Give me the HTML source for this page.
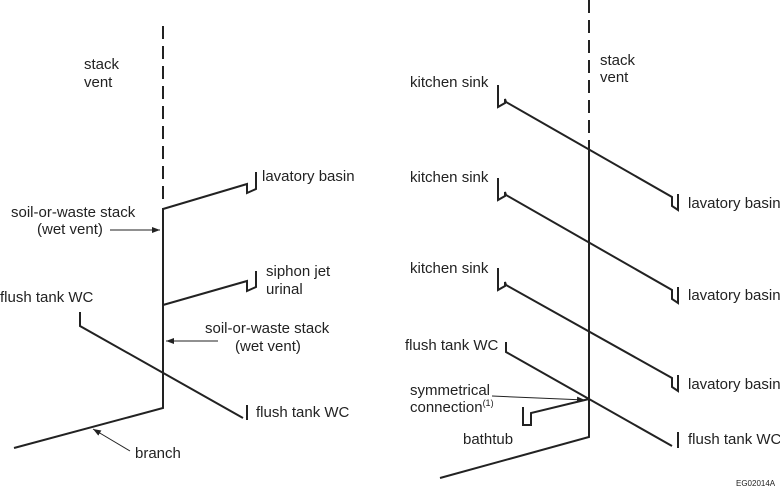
<!DOCTYPE html>
<html><head><style>
body{margin:0;background:#fff}
svg{display:block}
text{font-family:"Liberation Sans",sans-serif;font-size:15px;fill:#222}
</style></head><body>
<svg width="780" height="490" viewBox="0 0 780 490">
<defs><marker id="a" markerWidth="8" markerHeight="6" refX="8" refY="3" orient="auto" markerUnits="userSpaceOnUse"><path d="M0,0 L8,3 L0,6z" fill="#222"/></marker></defs>
<g stroke="#222" stroke-width="2" fill="none">
<line x1="163" y1="26" x2="163" y2="206" stroke-dasharray="13,7"/>
<polyline points="163,208 163,408 14,448"/>
<polyline points="163,209 247,184 247,193 256,189 256,172"/>
<polyline points="163,305 247,281 247,291 256,287 256,271"/>
<polyline points="80,312 80,326 243,418"/>
<line x1="247" y1="420" x2="247" y2="405"/>
<line x1="589" y1="0" x2="589" y2="150" stroke-dasharray="13,7"/>
<polyline points="589,150 589,437 440,478"/>
<polyline points="498,85 498,107 505,103 505,99 506,102 672,197 672,206 678,210 678,194"/>
<polyline points="498,178 498,200 505,196 505,192 506,195 672,290 672,299 678,303 678,287"/>
<polyline points="498,268 498,290 505,286 505,282 506,285 672,378 672,387 678,391 678,375"/>
<polyline points="506,342 506,352 672,446"/>
<line x1="678" y1="448" x2="678" y2="432"/>
<polyline points="589,399 531,413 531,425 523,425 523,407"/>
</g>
<g stroke="#222" stroke-width="1" fill="none">
<line x1="110" y1="230" x2="160" y2="230" marker-end="url(#a)"/>
<line x1="218" y1="341" x2="166" y2="341" marker-end="url(#a)"/>
<line x1="130" y1="451" x2="93" y2="429" marker-end="url(#a)"/>
<line x1="492" y1="396" x2="585" y2="400" marker-end="url(#a)"/>
</g>
<text x="84" y="69">stack</text><text x="84" y="87">vent</text>
<text x="262" y="181">lavatory basin</text>
<text x="11" y="217">soil-or-waste stack</text><text x="37" y="234">(wet vent)</text>
<text x="266" y="276">siphon jet</text><text x="266" y="294">urinal</text>
<text x="0" y="302">flush tank WC</text>
<text x="205" y="333">soil-or-waste stack</text><text x="235" y="351">(wet vent)</text>
<text x="256" y="417">flush tank WC</text>
<text x="135" y="458">branch</text>
<text x="600" y="65">stack</text><text x="600" y="82">vent</text>
<text x="410" y="87">kitchen sink</text>
<text x="410" y="182">kitchen sink</text>
<text x="410" y="273">kitchen sink</text>
<text x="688" y="208">lavatory basin</text>
<text x="688" y="300">lavatory basin</text>
<text x="688" y="389">lavatory basin</text>
<text x="405" y="350">flush tank WC</text>
<text x="410" y="395">symmetrical</text><text x="410" y="412">connection<tspan font-size="9" dy="-6">(1)</tspan></text>
<text x="463" y="444">bathtub</text>
<text x="688" y="444">flush tank WC</text>
<text x="736" y="486" style="font-size:8px">EG02014A</text>
</svg>
</body></html>
